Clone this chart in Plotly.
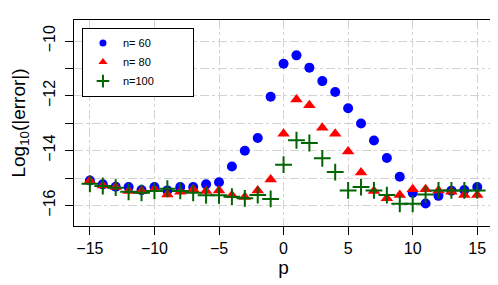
import plotly.graph_objects as go

p = list(range(-15, 16))

err_n60 = [-15.09, -15.23, -15.32, -15.33, -15.44, -15.33, -15.45, -15.33, -15.33, -15.23,
           -15.15, -14.58, -14.00, -13.54, -12.03, -10.83, -10.52, -10.97, -11.46, -11.86,
           -12.45, -13.01, -13.63, -14.27, -14.95, -15.54, -15.93, -15.65, -15.46, -15.44, -15.33]
err_n80 = [-15.10, -15.27, -15.33, -15.47, -15.47, -15.41, -15.60, -15.50, -15.41, -15.47,
           -15.45, -15.63, -15.69, -15.45, -15.05, -13.38, -12.13, -12.34, -13.16, -13.38,
           -14.03, -14.80, -15.47, -15.74, -15.62, -15.41, -15.41, -15.45, -15.50, -15.62, -15.62]
err_n100 = [-15.21, -15.29, -15.35, -15.50, -15.54, -15.47, -15.39, -15.47, -15.54, -15.63,
            -15.63, -15.68, -15.74, -15.62, -15.76, -14.51, -13.62, -13.72, -14.28, -14.78,
            -15.45, -15.33, -15.45, -15.62, -15.94, -15.94, -15.60, -15.45, -15.45, -15.45, -15.45]

series_names = ["n= 60", "n= 80", "n=100"]
x_ticks = [-15, -10, -5, 0, 5, 10, 15]
y_ticks = [-16, -14, -12, -10]
y_minor_ticks = [-16, -15, -14, -13, -12, -11, -10]

colors = ["#0000FF", "#FF0000", "#006400"]
symbols = ["circle", "triangle-up", "cross-thin"]
sizes = [10, 11, 12]
legend_sizes = [7, 8, 9]
series = [err_n60, err_n80, err_n100]
pad = "\u00a0" * 11

fig = go.Figure()
for name, ys, c, s, sz in zip(series_names, series, colors, symbols, sizes):
    fig.add_trace(go.Scatter(x=p, y=ys, mode="markers", name=name, showlegend=False,
                             marker=dict(symbol=s, size=sz, color=c,
                                         line=dict(color=c, width=2 if s == "cross-thin" else 0))))
# legend-only entries with smaller symbols (no data points)
for name, c, s, sz in zip(series_names, colors, symbols, legend_sizes):
    fig.add_trace(go.Scatter(x=[None], y=[None], mode="markers", name=name + pad, showlegend=True,
                             marker=dict(symbol=s, size=sz, color=c,
                                         line=dict(color=c, width=2 if s == "cross-thin" else 0))))

font_family = "Liberation Sans, Arial, Helvetica, sans-serif"
grid = dict(showgrid=True, gridcolor="#d3d3d3", griddash="dashdot", gridwidth=1.2)
fig.update_layout(
    width=498, height=285,
    margin=dict(l=66, r=13, t=12, b=67),
    paper_bgcolor="white", plot_bgcolor="white",
    font=dict(family=font_family, size=16, color="black"),
    showlegend=True,
    legend=dict(x=0.019, y=0.963, xanchor="left", yanchor="top",
                bordercolor="black", borderwidth=1, bgcolor="white",
                font=dict(size=11), tracegroupgap=0),
    xaxis=dict(range=[-16.23, 16.22], tickvals=x_ticks, **grid, automargin=False,
               showline=True, mirror=True, linecolor="black", linewidth=1,
               ticks="outside", ticklen=8, tickcolor="black", zeroline=False,
               title=dict(text="p", standoff=2)),
    yaxis=dict(range=[-16.75, -9.23], tickvals=y_ticks, tickangle=-90, **grid,
               automargin=False,
               minor=dict(tickvals=y_minor_ticks, ticks="outside", ticklen=8,
                          tickcolor="black", **grid),
               showline=True, mirror=True, linecolor="black", linewidth=1,
               ticks="outside", ticklen=8, tickcolor="black", zeroline=False,
               ticklabelstandoff=4,
               title=dict(text="Log<sub>10</sub>(|error|)", standoff=14)),
)

fig.write_html("out.html")
